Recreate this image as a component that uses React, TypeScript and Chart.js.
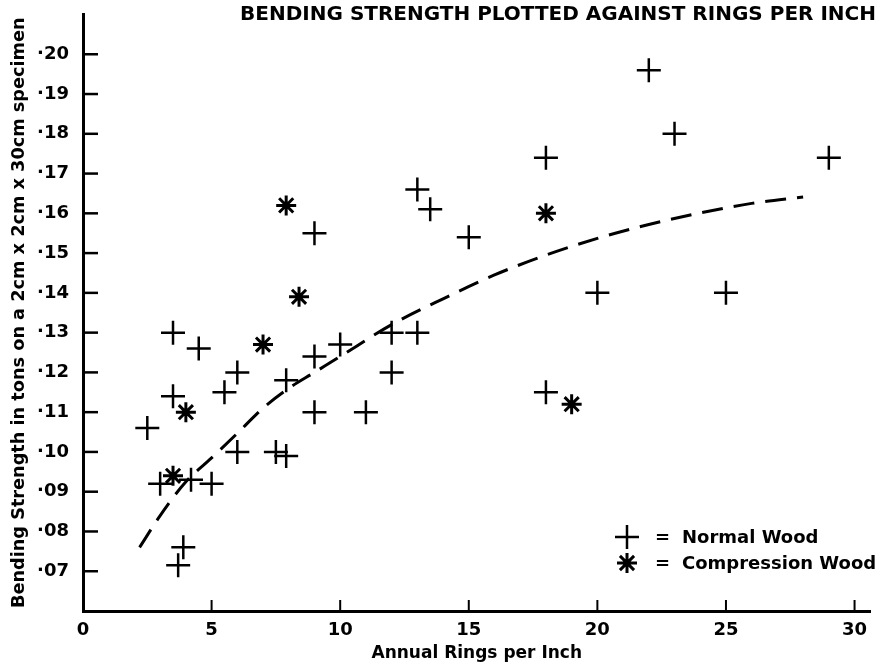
import React, { useEffect, useRef } from 'react';
import { Chart, registerables } from 'chart.js';
import { drawPoint } from 'chart.js/helpers';

Chart.register(...registerables);

const TITLE = 'BENDING STRENGTH PLOTTED AGAINST RINGS PER INCH';
const X_TITLE = 'Annual Rings per Inch';
const Y_TITLE = 'Bending Strength in tons on a 2cm x 2cm x 30cm specimen';

const NORMAL_LABEL = 'Normal Wood';
const COMP_LABEL = 'Compression Wood';

const NORMAL_X = [2.5, 3.0, 3.5, 3.5, 3.7, 3.9, 4.2, 4.5, 5.0, 5.5, 6.0, 6.0, 7.5, 7.9, 7.9, 9.0, 9.0, 9.0, 10.0, 11.0, 12.0, 12.0, 13.0, 13.0, 13.5, 15.0, 18.0, 18.0, 20.0, 22.0, 23.0, 25.0, 29.0];
const NORMAL_Y = [0.106, 0.092, 0.130, 0.114, 0.0715, 0.076, 0.093, 0.126, 0.092, 0.115, 0.120, 0.100, 0.100, 0.099, 0.118, 0.124, 0.155, 0.110, 0.127, 0.110, 0.130, 0.120, 0.130, 0.166, 0.161, 0.154, 0.174, 0.115, 0.140, 0.196, 0.180, 0.140, 0.174];

const COMP_X = [3.5, 4.0, 7.0, 7.9, 8.4, 18.0, 19.0];
const COMP_Y = [0.094, 0.110, 0.127, 0.162, 0.139, 0.160, 0.112];

const CURVE_X = [2.2, 3, 4, 5, 6, 7, 8, 9, 10, 12, 14, 16, 18, 20, 22, 24, 26, 28];
const CURVE_Y = [0.076, 0.084, 0.0925, 0.0985, 0.1047, 0.111, 0.116, 0.12, 0.124, 0.132, 0.1385, 0.1445, 0.1495, 0.1537, 0.1572, 0.1601, 0.1625, 0.1641];

const X_TICKS = [0, 5, 10, 15, 20, 25, 30];
const X_TICK_LABELS = ['0', '5', '10', '15', '20', '25', '30'];
const Y_TICKS = [0.07, 0.08, 0.09, 0.10, 0.11, 0.12, 0.13, 0.14, 0.15, 0.16, 0.17, 0.18, 0.19, 0.20];
const Y_TICK_LABELS = ['·07', '·08', '·09', '·10', '·11', '·12', '·13', '·14', '·15', '·16', '·17', '·18', '·19', '·20'];

const FONT = '"DejaVu Sans", sans-serif';

const zip = (xs: number[], ys: number[]) => xs.map((x, i) => ({ x, y: ys[i] }));

const decorPlugin = {
  id: 'decor',
  afterDraw(chart: any) {
    const ctx = chart.ctx;
    const xs = chart.scales.x;
    const ys = chart.scales.y;
    const area = chart.chartArea;
    ctx.save();
    ctx.strokeStyle = '#000';
    ctx.lineCap = 'butt';
    // inward tick marks
    ctx.lineWidth = 2.5;
    ys.ticks.forEach((t: any) => {
      const py = ys.getPixelForValue(t.value);
      ctx.beginPath();
      ctx.moveTo(area.left, py);
      ctx.lineTo(area.left + 15, py);
      ctx.stroke();
    });
    ctx.lineWidth = 2;
    xs.ticks.forEach((t: any) => {
      const px = xs.getPixelForValue(t.value);
      ctx.beginPath();
      ctx.moveTo(px, area.bottom);
      ctx.lineTo(px, area.bottom - 11);
      ctx.stroke();
    });
    // title
    ctx.fillStyle = '#000';
    ctx.font = `bold 20px ${FONT}`;
    ctx.textAlign = 'right';
    ctx.textBaseline = 'middle';
    ctx.fillText(TITLE, 876, 15);
    // legend
    const ds = chart.data.datasets;
    const rows = [
      { label: NORMAL_LABEL, d: ds[0], y: 537 },
      { label: COMP_LABEL, d: ds[1], y: 563 },
    ];
    ctx.font = `bold 18px ${FONT}`;
    ctx.textAlign = 'left';
    rows.forEach((r) => {
      ctx.strokeStyle = '#000';
      ctx.lineWidth = r.d.borderWidth;
      drawPoint(ctx, { pointStyle: r.d.pointStyle, radius: r.d.pointRadius, rotation: 0, borderWidth: r.d.borderWidth }, 627, r.y);
      ctx.fillText('=', 655, r.y + 1);
      ctx.fillText(r.label, 682, r.y + 1);
    });
    ctx.restore();
  },
};

export default function App() {
  const ref = useRef<HTMLCanvasElement>(null);
  useEffect(() => {
    if (!ref.current) return;
    const chart = new Chart(ref.current, {
      type: 'scatter',
      data: {
        datasets: [
          {
            label: NORMAL_LABEL,
            data: zip(NORMAL_X, NORMAL_Y),
            pointStyle: 'cross',
            pointRadius: 12,
            borderWidth: 2.5,
            borderColor: '#000',
            backgroundColor: '#000',
          },
          {
            label: COMP_LABEL,
            data: zip(COMP_X, COMP_Y),
            pointStyle: 'star',
            pointRadius: 10,
            borderWidth: 3,
            borderColor: '#000',
            backgroundColor: '#000',
          },
          {
            label: 'trend',
            data: zip(CURVE_X, CURVE_Y),
            showLine: true,
            pointRadius: 0,
            borderColor: '#000',
            borderWidth: 3,
            borderDash: [21, 11],
            tension: 0.4,
            cubicInterpolationMode: 'monotone',
          } as any,
        ],
      },
      options: {
        animation: false,
        responsive: false,
        events: [],
        layout: { padding: { left: 0, right: 12, top: 11, bottom: 0 } },
        plugins: { legend: { display: false }, tooltip: { enabled: false } },
        scales: {
          x: {
            type: 'linear',
            min: 0,
            max: 30.62,
            afterBuildTicks: (s: any) => {
              s.ticks = X_TICKS.map((v) => ({ value: v }));
            },
            afterFit: (s: any) => {
              s.height = 57;
              s.paddingLeft = 0;
              s.paddingRight = 0;
            },
            grid: { drawOnChartArea: false, drawTicks: false },
            border: { display: true, width: 3, color: '#000' },
            ticks: {
              padding: 9,
              color: '#000',
              font: { family: FONT, size: 18, weight: 'bold' },
              maxRotation: 0,
              autoSkip: false,
              callback: (v: any) => X_TICK_LABELS[X_TICKS.indexOf(Number(v))] ?? '',
            },
            title: {
              display: true,
              text: X_TITLE,
              color: '#000',
              font: { family: FONT, size: 17, weight: 'bold' },
              padding: { top: 0, bottom: 4 },
            },
          },
          y: {
            type: 'linear',
            min: 0.06,
            max: 0.21,
            afterBuildTicks: (s: any) => {
              s.ticks = Y_TICKS.map((v) => ({ value: v }));
            },
            afterFit: (s: any) => {
              s.width = 83;
              s.paddingTop = 0;
              s.paddingBottom = 0;
            },
            grid: { drawOnChartArea: false, drawTicks: false },
            border: { display: true, width: 3, color: '#000' },
            ticks: {
              padding: 14,
              color: '#000',
              font: { family: FONT, size: 18, weight: 'bold' },
              autoSkip: false,
              callback: (v: any) => {
                const i = Y_TICKS.findIndex((t) => Math.abs(t - Number(v)) < 1e-6);
                return i >= 0 ? Y_TICK_LABELS[i] : '';
              },
            },
            title: {
              display: true,
              text: Y_TITLE,
              color: '#000',
              font: { family: FONT, size: 17.7, weight: 'bold' },
              padding: { top: 9, bottom: 0 },
            },
          },
        },
      } as any,
      plugins: [decorPlugin],
    });
    return () => chart.destroy();
  }, []);
  return (
    <div style={{ position: 'fixed', left: 0, top: 0, width: 885, height: 668, background: '#fff' }}>
      <canvas ref={ref} width={885} height={668} style={{ display: 'block', width: 885, height: 668 }} />
    </div>
  );
}
